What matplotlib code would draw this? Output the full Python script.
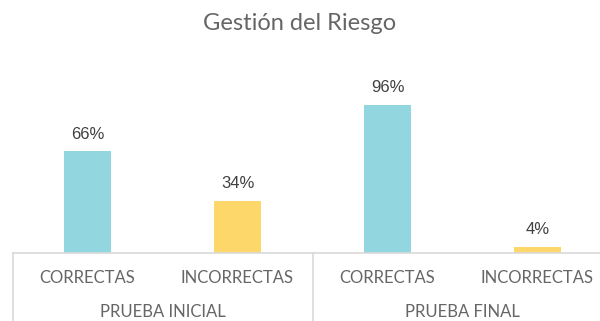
import matplotlib.pyplot as plt
import matplotlib.transforms as mtransforms

# results of the two tests
categories = ["CORRECTAS", "INCORRECTAS", "CORRECTAS", "INCORRECTAS"]
groups = ["PRUEBA INICIAL", "PRUEBA FINAL"]
values = [0.66, 0.34, 0.96, 0.04]
colors = ["#92D7DF", "#FDD76A", "#92D7DF", "#FDD76A"]

W, H = 600, 321
fig = plt.figure(figsize=(W / 100, H / 100), dpi=100)

# axes: baseline at y=253 px, 150 px per category starting at x=12.5
base_px = 253
top_px = base_px - 154
ax = fig.add_axes([12.5 / W, (H - base_px) / H, 600 / W, (base_px - top_px) / H])

x = range(len(values))
ax.bar(x, values, width=0.31, color=colors)
ax.set_xlim(-0.5, 3.5)
ax.set_ylim(0, 1.0)

for xi, v in zip(x, values):
    ax.annotate(f"{v:.0%}", (xi, v), xytext=(0, 7), textcoords="offset points",
                ha="center", va="bottom", fontsize=12, color="#404040",
                family="Liberation Sans")

for side in ["left", "top", "right"]:
    ax.spines[side].set_visible(False)
ax.spines["bottom"].set_color("#d9d9d9")
ax.spines["bottom"].set_linewidth(1.2)
ax.set_yticks([])
ax.set_xticks(list(x))
ax.set_xticklabels(categories, fontsize=12, color="#666666", family="Lato")
ax.tick_params(axis="x", length=0, pad=12)

# group labels and separators below the axis
trans = mtransforms.blended_transform_factory(ax.transData, ax.transAxes)
for i, g in enumerate(groups):
    ax.text(2 * i + 0.5, -0.38, g, transform=trans, ha="center", va="center",
            fontsize=12, color="#666666", family="Lato")
for xs in [-0.5, 1.5, 3.5]:
    ax.plot([xs, xs], [0, -0.5], transform=trans, color="#d9d9d9",
            linewidth=1.2, clip_on=False)

fig.text(0.5, 1 - 23 / H, "Gestión del Riesgo", ha="center", va="center",
         fontsize=17, color="#666666", family="Lato")

plt.savefig("out.png", dpi=100)
